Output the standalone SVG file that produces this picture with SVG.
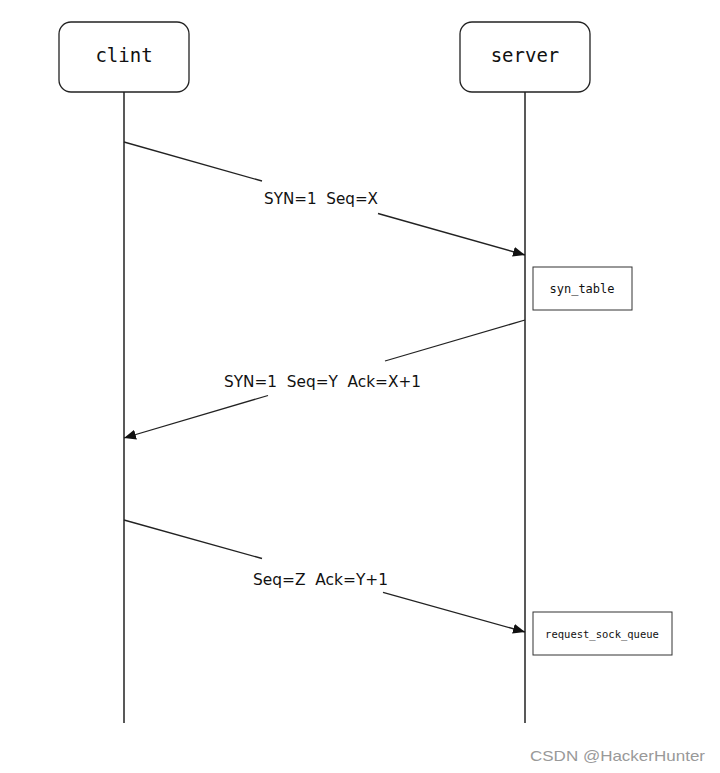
<svg xmlns="http://www.w3.org/2000/svg" width="720" height="773" viewBox="0 0 720 773">
<style>
.actor{fill:#fff;stroke:#222;stroke-width:1.3}
.life{stroke:#222;stroke-width:1.5;fill:none}
.msg{stroke:#222;stroke-width:1.3;fill:none}
.note{fill:#fff;stroke:#333;stroke-width:1}
.mono{font-family:"DejaVu Sans Mono","Liberation Mono",monospace;fill:#111;text-anchor:middle}
.lbl{font-family:"DejaVu Sans","Liberation Sans",sans-serif;font-size:16px;fill:#111}
.wm{font-family:"Liberation Sans",Arial,sans-serif;font-size:15px;fill:#999}
</style>
<defs>
<marker id="ah" markerWidth="12" markerHeight="10" refX="12" refY="5" orient="auto" markerUnits="userSpaceOnUse">
<path d="M0,0 L12,5 L0,10 Z" fill="#111"/>
</marker>
</defs>
<rect width="720" height="773" fill="#fff"/>
<g id="lifelines">
<line class="life" x1="124" y1="92" x2="124" y2="723"/>
<line class="life" x1="525" y1="92" x2="525" y2="723"/>
</g>
<g id="clint">
<rect class="actor" x="59" y="22" width="130" height="70" rx="12"/>
<text class="mono" x="124" y="62" font-size="19">clint</text>
</g>
<g id="server">
<rect class="actor" x="460" y="22" width="130" height="70" rx="12"/>
<text class="mono" x="525" y="62" font-size="19">server</text>
</g>
<g id="syn_table">
<rect class="note" x="533" y="267" width="99" height="43"/>
<text class="mono" x="582" y="293" font-size="12">syn_table</text>
</g>
<g id="request_sock_queue">
<rect class="note" x="533" y="612" width="139" height="43"/>
<text class="mono" x="602" y="638" font-size="10.5">request_sock_queue</text>
</g>
<g id="connectors">
<line class="msg" x1="124" y1="142" x2="262" y2="181"/>
<line class="msg" x1="378" y1="213.5" x2="525" y2="255" marker-end="url(#ah)"/>
<line class="msg" x1="525" y1="320" x2="385" y2="361"/>
<line class="msg" x1="268" y1="395.5" x2="124" y2="438" marker-end="url(#ah)"/>
<line class="msg" x1="124" y1="520" x2="262" y2="558.5"/>
<line class="msg" x1="383" y1="592.3" x2="525" y2="632" marker-end="url(#ah)"/>
</g>
<g id="labels">
<text class="lbl" x="264" y="204" xml:space="preserve" textLength="114" lengthAdjust="spacingAndGlyphs">SYN=1  Seq=X</text>
<text class="lbl" x="224" y="387" xml:space="preserve" textLength="197" lengthAdjust="spacingAndGlyphs">SYN=1  Seq=Y  Ack=X+1</text>
<text class="lbl" x="253" y="585" xml:space="preserve" textLength="135" lengthAdjust="spacingAndGlyphs">Seq=Z  Ack=Y+1</text>
</g>
<text class="wm" x="530" y="761" textLength="175" lengthAdjust="spacingAndGlyphs">CSDN @HackerHunter</text>
</svg>
